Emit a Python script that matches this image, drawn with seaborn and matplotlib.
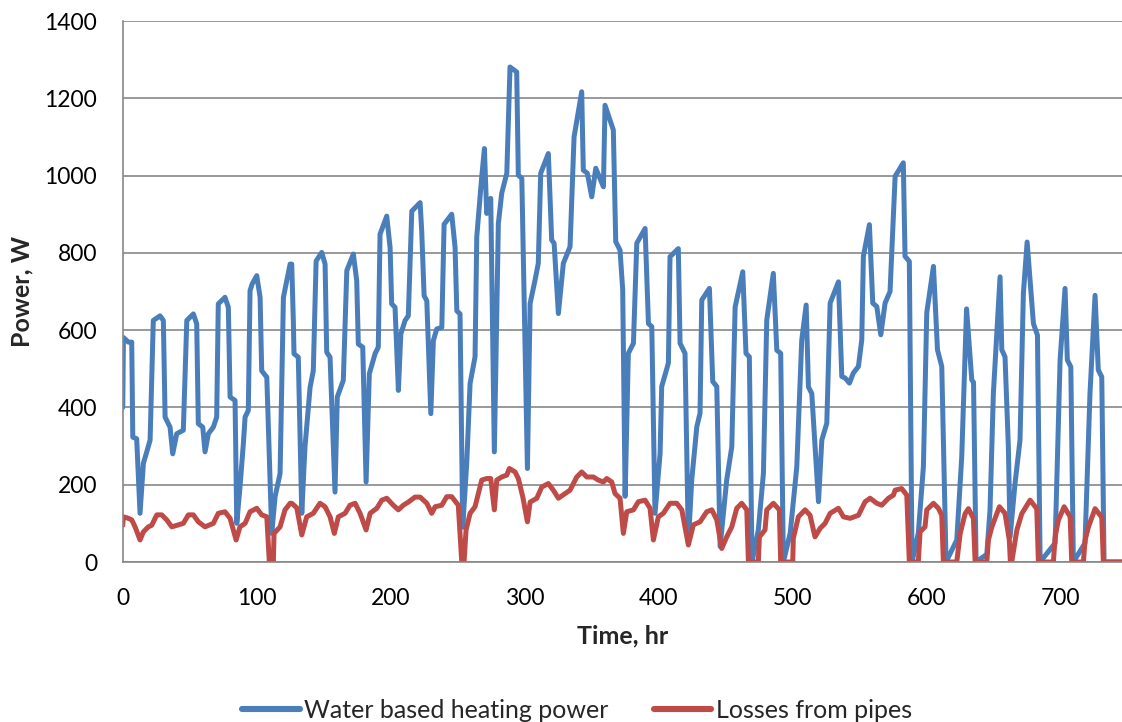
import matplotlib
matplotlib.use("Agg")
import matplotlib.pyplot as plt
from matplotlib.lines import Line2D
import seaborn as sns
import pandas as pd

# Hourly heating power delivered by the water based system (W)
heating_hours = [
    0, 0.5, 4.2, 6.7, 7.5, 10.4, 12.9, 15.4, 20.4, 22.8, 27.8, 30.3, 31.6, 35.3, 37.3, 40.3,
    45.2, 47.8, 52.7, 55.2, 56.4, 59.7, 61.4, 63.9, 67.6, 70.1, 71.3, 76.3, 78.8, 80.1, 83.8,
    85.1, 87.5, 90, 91.3, 93.7, 95, 96.5, 100, 102.5, 103.7, 107.5, 111.2, 113.7, 117.4, 119.9,
    124.9, 126.1, 127.3, 127.8, 131, 133.6, 136, 139.8, 142.2, 144.3, 148.5, 151, 152.2, 154.7,
    158.4, 160.1, 164.6, 167.2, 172.1, 174.6, 175.8, 179.1, 181.6, 184, 188.3, 190.7, 192, 197,
    199.5, 200.7, 203.2, 205.7, 207.5, 210.7, 213.1, 215.7, 221.9, 223.1, 224.9, 226.9, 229.9,
    231.8, 234.3, 238.1, 239.8, 245.5, 248, 249.3, 251.7, 253.7, 256.7, 259.2, 262.9, 264.2,
    267.9, 269.9, 271.6, 274.6, 277.3, 280.3, 282.8, 286.6, 289, 294, 295.2, 297.8, 302, 304,
    307.7, 310.1, 311.9, 317.6, 320.1, 321.9, 325.1, 328.8, 333.8, 336.8, 342.5, 343.7, 346.7,
    350, 353, 358.7, 359.9, 366.1, 367.9, 371.1, 373.1, 374.9, 377.3, 381.1, 383.6, 389.8,
    392.3, 394.8, 397.2, 401, 402.2, 407.2, 408.4, 414.6, 415.9, 419.6, 422.1, 424.6, 428.4,
    430.8, 432.1, 437.8, 440.3, 443.3, 445.8, 450.7, 454.5, 457, 462.7, 465.1, 467.6, 469.6,
    474.3, 478.1, 480.6, 485.5, 488.1, 491, 493, 498.1, 503, 506.7, 510, 511.7, 514.2, 519.2,
    521.7, 525.4, 527.9, 534.1, 536.6, 539.1, 542.3, 545.2, 549, 551.5, 552.7, 557.2, 559.7,
    562.7, 565.7, 568.9, 572.6, 576.4, 582.5, 583.8, 587, 589, 593.7, 597.5, 600, 605, 608,
    611.2, 614.4, 622.4, 626.1, 629.7, 633.6, 634.9, 636.8, 644.8, 647.2, 649.7, 654.7, 656,
    658.4, 660.9, 662.2, 665.9, 669.6, 672.1, 674.9, 679.6, 682.6, 684.6, 695.8, 699.5, 703.2,
    704.9, 707.5, 709.4, 718.1, 721.8, 725.6, 728, 730.6, 732.3, 745.7,
]
heating_power = [
    400, 581, 569, 569, 323, 319, 126, 255, 315, 625, 637, 625, 375, 349, 280, 332,
    341, 625, 642, 616, 358, 349, 285, 332, 349, 375, 668, 685, 659, 427, 418,
    100, 194, 306, 375, 392, 702, 719, 741, 685, 495, 478, 74, 169, 229, 685,
    771, 771, 625, 539, 530, 126, 298, 452, 495, 779, 801, 771, 543, 530,
    181, 427, 470, 754, 797, 728, 564, 556, 207, 487, 539, 556, 848, 895,
    814, 668, 659, 444, 590, 625, 637, 908, 930, 857, 689, 676, 384,
    573, 603, 607, 874, 900, 814, 650, 642, 90, 255, 462, 531, 842,
    997, 1070, 902, 941, 285, 876, 954, 1006, 1281, 1268, 1001, 993, 242, 669,
    730, 773, 1006, 1057, 833, 825, 643, 773, 816, 1100, 1217, 1014, 1006,
    945, 1019, 971, 1182, 1118, 829, 807, 704, 170, 540, 566, 825, 863,
    617, 609, 126, 281, 454, 515, 790, 811, 566, 540, 48, 212, 350,
    385, 678, 708, 467, 454, 40, 212, 298, 660, 751, 540, 531, 0,
    83, 229, 626, 747, 548, 540, 0, 75, 246, 574, 665, 453, 436, 156,
    316, 359, 670, 725, 480, 476, 463, 489, 506, 575, 791, 873, 670,
    661, 588, 670, 700, 998, 1033, 791, 778, 0, 75, 247, 645, 765, 549,
    506, 0, 57, 272, 655, 471, 465, 0, 20, 134, 436, 738, 549,
    531, 298, 65, 204, 316, 695, 828, 617, 587, 0, 49, 523, 708,
    523, 505, 0, 49, 436, 690, 497, 479, 0, 0,
]

# Hourly heat losses from the distribution pipes (W)
loss_hours = [
    0, 0.4, 4.2, 6.7, 9.2, 12.9, 15.4, 19.1, 21.6, 25.4, 29.1, 32.8, 36.6, 40.3, 45.2, 49,
    52.7, 56.4, 61.4, 67.6, 71.3, 76.3, 80.1, 84.6, 87.5, 91.3, 95, 100, 103.7, 107.5, 109.4,
    112.4, 112.9, 117.4, 121.1, 124.9, 126.1, 129.9, 133.6, 137.3, 142.2, 147.2, 151, 154.7,
    157.9, 160.9, 165.9, 169.6, 173.4, 177.1, 181.6, 184.6, 189.6, 193.3, 197, 201.9, 205.7,
    209.4, 213.1, 218.1, 221.9, 226.9, 230.6, 233.1, 238.1, 241.8, 245.5, 249.3, 250.4, 253,
    254.7, 256.2, 259.2, 262.9, 267.9, 271.6, 274.6, 277.3, 279.1, 282.8, 286.6, 288.5, 292.8,
    295.2, 298.5, 302, 304, 309, 312.7, 317.6, 321.3, 325.1, 330.1, 333.8, 338.8, 342.5, 346.3,
    351.2, 354.9, 358.7, 361.2, 364.9, 367.4, 371.1, 373.6, 376.1, 381.1, 384.8, 389.8, 393.5,
    396, 399.7, 403.4, 408.4, 413.4, 417.2, 422.1, 425.8, 430.8, 435.8, 439.6, 443.3, 447,
    450.7, 454.5, 458.2, 461.9, 465.7, 466.9, 474.3, 475.1, 479.3, 480.6, 485.5, 490, 491,
    500, 500.4, 504.2, 509.2, 512.9, 516.6, 520.4, 524.1, 527.9, 534.1, 537.8, 542.8, 549,
    554, 557.7, 562.7, 566.4, 571.4, 575.1, 576.4, 581.3, 585.1, 587, 593.7, 595, 598.7, 600,
    605, 608.7, 611.2, 612.4, 622.4, 624.9, 628.6, 631.1, 634.8, 636.1, 644.8, 646, 648.5,
    654.2, 658.4, 661.6, 662.4, 663.4, 667.2, 670.9, 677.1, 682.1, 683.3, 694.5, 695.8, 698.2,
    702.5, 707, 708.2, 716.9, 718.1, 720.6, 725.6, 730.6, 731.8, 745.7,
]
loss_power = [
    95, 117, 113, 109, 91, 57, 78, 91, 95, 122, 122, 109, 91, 95, 100, 122,
    122, 104, 91, 100, 126, 130, 113, 57, 91, 100, 130, 139, 122, 117, 0,
    0, 74, 91, 135, 152, 152, 140, 70, 117, 126, 152, 143, 117,
    74, 117, 126, 147, 152, 126, 83, 126, 139, 160, 165, 147, 135,
    147, 155, 168, 168, 152, 126, 143, 147, 169, 169, 152, 147, 0,
    0, 83, 126, 143, 212, 216, 216, 135, 212, 220, 225, 242, 233,
    216, 169, 104, 155, 165, 194, 203, 186, 165, 177, 186, 220, 233, 220,
    220, 212, 207, 216, 207, 177, 165, 74, 130, 135, 156, 160, 139,
    57, 117, 126, 152, 152, 135, 44, 96, 104, 130, 135, 109, 35,
    65, 91, 139, 152, 135, 0, 0, 65, 83, 135, 152, 135, 0,
    0, 61, 117, 135, 121, 65, 87, 100, 126, 139, 117, 113, 121,
    156, 165, 152, 147, 165, 173, 186, 190, 173, 0, 0, 78, 91, 135,
    152, 139, 121, 0, 0, 73, 125, 138, 113, 0, 0, 57, 90,
    143, 126, 57, 0, 0, 82, 125, 160, 138, 0, 0, 65, 108,
    143, 117, 0, 0, 56, 90, 138, 116, 0, 0,
]

series_names = ["Water based heating power", "Losses from pipes"]
series_colors = ["#4A7EBB", "#BE4B48"]
x_ticks = [0, 100, 200, 300, 400, 500, 600, 700]
y_ticks = [0, 200, 400, 600, 800, 1000, 1200, 1400]

sns.set_style("white")
plt.rcParams["font.family"] = ["Lato", "DejaVu Sans"]

frame = pd.concat([
    pd.DataFrame({"hour": heating_hours, "power": heating_power, "series": series_names[0]}),
    pd.DataFrame({"hour": loss_hours, "power": loss_power, "series": series_names[1]}),
], ignore_index=True)

fig = plt.figure(figsize=(11.22, 7.22), dpi=100)
ax = fig.add_axes([0.1094, 0.2216, 0.8906, 0.7493])

sns.lineplot(
    data=frame, x="hour", y="power", hue="series", hue_order=series_names,
    palette=series_colors, estimator=None, sort=False, linewidth=3.6,
    legend=False, ax=ax,
)
for line in ax.get_lines():
    line.set_solid_joinstyle("round")
    line.set_solid_capstyle("round")

grid_gray = "#878787"
ax.set_xlim(0, 745.7)
ax.set_ylim(0, 1400)
ax.set_xticks(x_ticks)
ax.set_yticks(y_ticks)
ax.yaxis.grid(True, color=grid_gray, linewidth=1.2)
ax.xaxis.grid(False)
ax.set_axisbelow(True)
for side in ("top", "right"):
    ax.spines[side].set_visible(False)
for side in ("left", "bottom"):
    ax.spines[side].set_color(grid_gray)
    ax.spines[side].set_linewidth(1.2)
ax.tick_params(axis="both", which="major", direction="out", length=6.5, width=1.2,
               color=grid_gray, labelsize=16.5, labelcolor="black")
ax.tick_params(axis="y", pad=12)
ax.tick_params(axis="x", pad=12)

ax.set_xlabel("Time, hr", fontsize=18, fontweight="bold")
ax.set_ylabel("Power, W", fontsize=18, fontweight="bold")
ax.xaxis.set_label_coords(0.5, -0.115)
ax.yaxis.set_label_coords(-0.089, 0.5)

handles = [Line2D([], [], color=c, linewidth=4.4, solid_capstyle="round") for c in series_colors]
fig.legend(handles, series_names, loc="center", bbox_to_anchor=(577 / 1122, 1 - 710 / 722),
           ncol=2, frameon=False, fontsize=18, handlelength=2.3, handletextpad=0.18,
           columnspacing=1.8)

fig.savefig("out.png", dpi=100)
